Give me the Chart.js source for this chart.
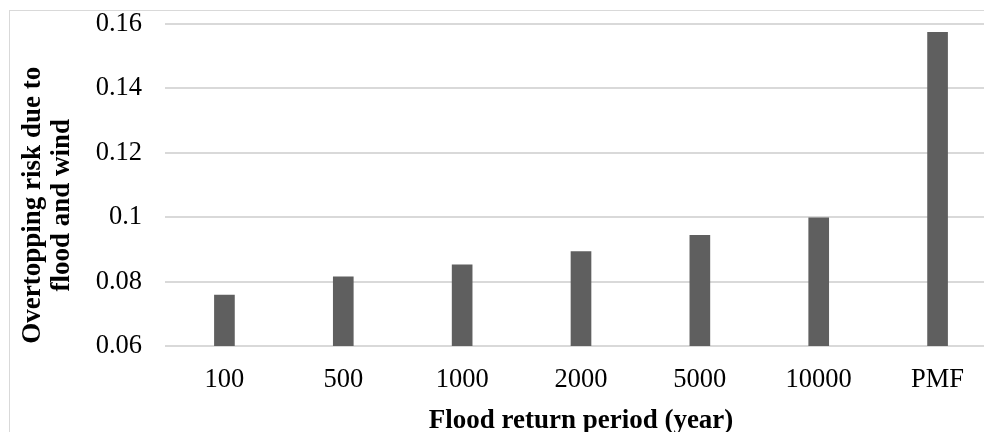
<!DOCTYPE html>
<html>
<head>
<meta charset="utf-8">
<script src="https://cdn.jsdelivr.net/npm/chart.js@4/dist/chart.umd.min.js"></script>
<style>
  html, body { margin: 0; padding: 0; background: #fff; overflow: hidden; }
  #wrap { position: relative; width: 984px; height: 432px; overflow: hidden; }
  #frame { position: absolute; left: 9px; top: 10px; width: 1100px; height: 600px; border: 1px solid #d9d9d9; }
  #chart { position: absolute; left: 0; top: 0; }
</style>
</head>
<body>
<div id="wrap">
  <div id="frame"></div>
  <canvas id="chart" width="1010" height="432"></canvas>
</div>
<script>
const categories = ["100", "500", "1000", "2000", "5000", "10000", "PMF"]
const riskValues = [0.0758, 0.0815, 0.0852, 0.0893, 0.0944, 0.0998, 0.1574]
const yTicks = [0.06, 0.08, 0.1, 0.12, 0.14, 0.16]

const serif = "'Liberation Serif', 'Times New Roman', serif"
const pad = "      "

new Chart(document.getElementById("chart"), {
  type: "bar",
  data: {
    labels: categories,
    datasets: [{
      data: riskValues,
      backgroundColor: "#5f5f5f",
      barThickness: 20
    }]
  },
  options: {
    responsive: false,
    animation: false,
    devicePixelRatio: 1,
    layout: { padding: { left: 10, top: 24, right: 13, bottom: 0 } },
    plugins: {
      legend: { display: false },
      tooltip: { enabled: false }
    },
    scales: {
      x: {
        grid: { display: false },
        border: { display: false },
        ticks: {
          color: "#000",
          font: { family: serif, size: 26.5 },
          padding: 10,
          maxRotation: 0
        },
        title: {
          display: true,
          text: "Flood return period (year)",
          color: "#000",
          font: { family: serif, size: 27, weight: "bold", lineHeight: 1.08 },
          padding: { top: 0, bottom: -4 }
        },
        afterFit: (scale) => { scale.height = 86 }
      },
      y: {
        min: 0.06,
        max: 0.16,
        afterBuildTicks: (scale) => { scale.ticks = yTicks.map(v => ({ value: v })) },
        grid: { color: "#d9d9d9", lineWidth: 2, drawTicks: false },
        border: { display: false },
        ticks: {
          color: "#000",
          font: { family: serif, size: 26.5 },
          padding: 23,
          callback: (v) => String(+v.toFixed(2))
        },
        title: {
          display: true,
          text: ["Overtopping risk due to" + pad, "flood and wind" + pad],
          color: "#000",
          font: { family: serif, size: 27, weight: "bold", lineHeight: 1.08 },
          padding: { top: 8, bottom: 0 }
        },
        afterFit: (scale) => {
          scale.width = 155
          scale.paddingTop = 0
          scale.paddingBottom = 0
        }
      }
    }
  }
})
</script>
</body>
</html>
